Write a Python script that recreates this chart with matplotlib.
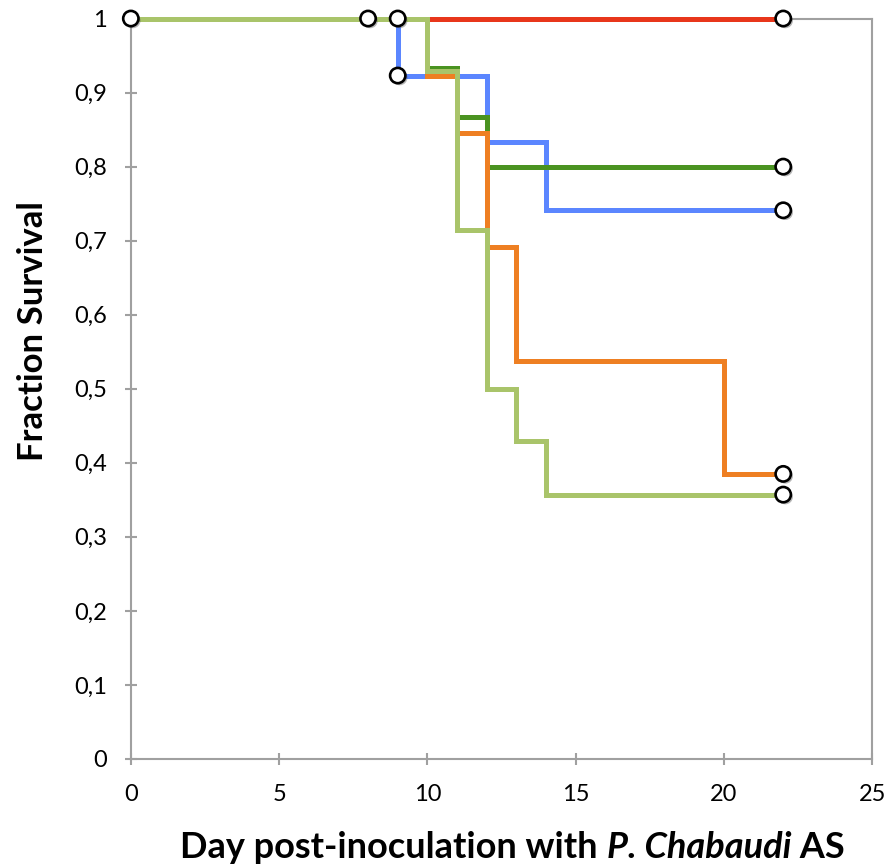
import matplotlib
matplotlib.use("Agg")
import matplotlib.pyplot as plt
import matplotlib.patheffects as pe
from matplotlib.offsetbox import TextArea, HPacker, AnnotationBbox

plt.rcParams['font.family'] = ['Lato', 'DejaVu Sans']

# Kaplan-Meier style step curves (day, fraction surviving)
rojo_x = [0, 22]
rojo_y = [1, 1]
azul_x = [0, 9, 12, 14, 22]
azul_y = [1, 0.923, 0.833, 0.741, 0.741]
verde_x = [0, 10, 11, 12, 22]
verde_y = [1, 0.933, 0.867, 0.8, 0.8]
naranja_x = [0, 10, 11, 12, 13, 20, 22]
naranja_y = [1, 0.923, 0.846, 0.692, 0.538, 0.385, 0.385]
claro_x = [0, 10, 11, 12, 13, 14, 22]
claro_y = [1, 0.929, 0.714, 0.5, 0.429, 0.357, 0.357]

# censored points (open circles)
cens_x = [0, 8, 9, 9, 22, 22, 22, 22, 22]
cens_y = [1, 1, 1, 0.923, 1, 0.8, 0.741, 0.385, 0.357]

x_ticks = [0, 5, 10, 15, 20, 25]
y_ticks = [0, 0.1, 0.2, 0.3, 0.4, 0.5, 0.6, 0.7, 0.8, 0.9, 1]
y_labels = ["0", "0,1", "0,2", "0,3", "0,4", "0,5", "0,6", "0,7", "0,8", "0,9", "1"]

fig = plt.figure(figsize=(8.9, 8.66), dpi=100)
ax = fig.add_axes([0.147, 0.1236, 0.833, 0.855])

series = [
    (rojo_x, rojo_y, "#E8361B"),
    (azul_x, azul_y, "#5B86FF"),
    (verde_x, verde_y, "#4A9321"),
    (naranja_x, naranja_y, "#EE7F22"),
    (claro_x, claro_y, "#A9C46A"),
]
for xs, ys, c in series:
    ax.step(xs, ys, where="post", color=c, lw=3.6, solid_joinstyle="miter",
            clip_on=False, zorder=3)

ax.plot(cens_x, cens_y, "o", ms=11, mfc="white", mec="black", mew=1.9,
        zorder=5, clip_on=False,
        path_effects=[pe.SimplePatchShadow(offset=(1.5, -1.5), alpha=0.4), pe.Normal()])

ax.set_xlim(0, 25)
ax.set_ylim(0, 1)
ax.set_xticks(x_ticks)
ax.set_yticks(y_ticks)
ax.set_yticklabels(y_labels)

for s in ax.spines.values():
    s.set_color("#A0A0A0")
    s.set_linewidth(1.5)
ax.tick_params(direction="inout", length=8, width=1.5, color="#A0A0A0",
               labelsize=17)
ax.tick_params(axis="x", pad=14)
ax.tick_params(axis="y", pad=13)

# y label sits a bit above the middle in the original
ax.set_ylabel("Fraction Survival", fontsize=25, fontweight="bold")
ax.yaxis.set_label_coords(-0.11, 0.578)

# x label with italic part
partes = [
    TextArea("Day post-inoculation with ", textprops=dict(fontsize=26, fontweight="bold")),
    TextArea("P. Chabaudi", textprops=dict(fontsize=26, fontweight="bold", style="italic")),
    TextArea(" AS", textprops=dict(fontsize=26, fontweight="bold")),
]
caja = HPacker(children=partes, align="baseline", pad=0, sep=0)
ab = AnnotationBbox(caja, (0.515, -0.12), xycoords="axes fraction",
                    box_alignment=(0.5, 0.5), frameon=False)
ax.add_artist(ab)

fig.savefig("out.png", dpi=100)
